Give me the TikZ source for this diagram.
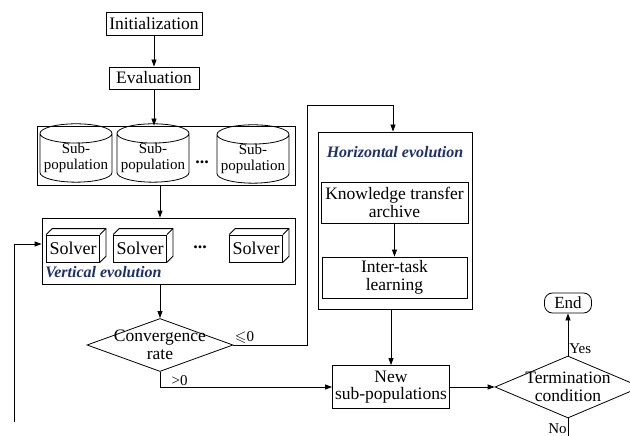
\documentclass[tikz,border=0pt]{standalone}
\usepackage{fontspec}
\setmainfont{Liberation Serif}
\usepackage{amssymb}
\usetikzlibrary{shapes.geometric, arrows.meta, positioning, calc}

\definecolor{evoblue}{RGB}{28,48,112}

\tikzset{
  block/.style={draw, inner sep=0pt, align=center, font=\fontsize{17.5}{17.5}\selectfont},
  groupbox/.style={draw, inner sep=0pt},
  subpop/.style={draw, cylinder, shape border rotate=90, aspect=0.3, minimum width=72pt, minimum height=44pt, inner sep=0pt, align=center, font=\fontsize{15}{15.5}\selectfont},
  solver/.style={draw, inner sep=0pt, minimum width=53pt, minimum height=27pt, font=\fontsize{18}{18}\selectfont},
  decision/.style={draw, diamond, aspect=2.75, inner xsep=-10pt, inner ysep=-10pt, align=center, font=\fontsize{17.5}{17.5}\selectfont},
  evo/.style={font=\fontsize{16}{16}\selectfont\bfseries\itshape, text=evoblue, inner sep=0pt},
  edgelabel/.style={font=\fontsize{15}{15}\selectfont, inner sep=1pt},
  dotsnode/.style={font=\fontsize{18}{18}\selectfont\bfseries, anchor=base, inner sep=0pt},
  flowarrow/.style={-{Triangle[length=7pt,width=5pt]}},
}

\begin{document}
\begin{tikzpicture}[x=1pt, y=-1pt, line width=0.8pt]
    \useasboundingbox (0,0) rectangle (630,436);
    \clip (0,0) rectangle (630,436);

    % start of the flow
    \node[block, minimum width=96pt, minimum height=23pt] (init) at (154,23.5) {Initialization};
    \node[block, minimum width=90pt, minimum height=22pt] (eval) at (154,78) {Evaluation};

    % sub-populations
    \node[groupbox, minimum width=258pt, minimum height=59pt] (popgroup) at (166,155.5) {};
    \node[subpop] (pop1) at (76,158) {Sub-\\population};
    \node[subpop] (pop2) at (153,158) {Sub-\\population};
    \node[subpop] (pop3) at (253,159) {Sub-\\population};
    \node[dotsnode] (popdots) at (202,163) {...};

    % vertical evolution
    \node[groupbox, minimum width=253pt, minimum height=66pt] (solvgroup) at (168.5,251) {};
    \node[solver] (s1) at (73,248.5) {Solver};
    \node[solver] (s2) at (140,248.5) {Solver};
    \node[solver] (s3) at (256,248.5) {Solver};
    \node[dotsnode] (soldots) at (200,248) {...};
    \node[evo, anchor=west] (vertevo) at (45,272) {Vertical evolution};

    \draw (s1.north west) -- ++(6,-6) -| ($(s1.south east)+(6,-6)$) -- (s1.south east);
    \draw (s1.north east) -- ++(6,-6);
    \draw (s2.north west) -- ++(6,-6) -| ($(s2.south east)+(6,-6)$) -- (s2.south east);
    \draw (s2.north east) -- ++(6,-6);
    \draw (s3.north west) -- ++(6,-6) -| ($(s3.south east)+(6,-6)$) -- (s3.south east);
    \draw (s3.north east) -- ++(6,-6);

    \node[decision, minimum width=146pt, minimum height=53pt] (conv) at (160,345) {Convergence\\rate};

    % horizontal evolution
    \node[groupbox, minimum width=154pt, minimum height=177pt] (horbox) at (395,220.5) {};
    \node[evo] (horevo) at (395,152) {Horizontal evolution};
    \node[block, minimum width=147pt, minimum height=41pt] (archive) at (394.5,202.5) {Knowledge transfer\\archive};
    \node[block, minimum width=145pt, minimum height=41pt] (intertask) at (394.5,277.5) {Inter-task\\learning};

    \node[block, minimum width=117pt, minimum height=43pt] (newpop) at (391,387) {New\\sub-populations};
    \node[decision, minimum width=146pt, minimum height=62pt] (term) at (568,387) {Termination\\condition};
    \node[block, rounded corners=8pt, minimum width=47pt, minimum height=20pt, font=\fontsize{17}{17}\selectfont] (endnode) at (568,303) {End};

    \coordinate (loopstart) at (14,422);

    % connectors
    \draw[flowarrow] (init) -- (eval);
    \draw[flowarrow] (eval) -- (eval |- popgroup.north);
    \draw[flowarrow] (conv |- popgroup.south) -- (conv |- solvgroup.north);
    \draw[flowarrow] (conv |- solvgroup.south) -- (conv.north);
    \draw[flowarrow] (conv.east) -- node[edgelabel, pos=0.15, above] {$\leqslant$0} ++(74,0) |- ($(horbox.north)+(-2,-26)$) -- ($(horbox.north)+(-2,0)$);
    \draw[flowarrow] (archive) -- (intertask);
    \draw[flowarrow] (newpop |- horbox.south) -- (newpop.north);
    \draw[flowarrow] (conv.south) |- node[edgelabel, pos=0.53, anchor=south west] {>0} (newpop.west);
    \draw[flowarrow] (newpop.east) -- (term.west);
    \draw[flowarrow] (term.north) -- node[edgelabel, pos=0.16, anchor=west] {Yes} (endnode.south);
    \draw (term.south) -- node[edgelabel, pos=0.5, anchor=east] {No} ++(0,20);
    \draw[flowarrow] (loopstart) |- ($(solvgroup.west)+(0,-7)$);
\end{tikzpicture}
\end{document}
